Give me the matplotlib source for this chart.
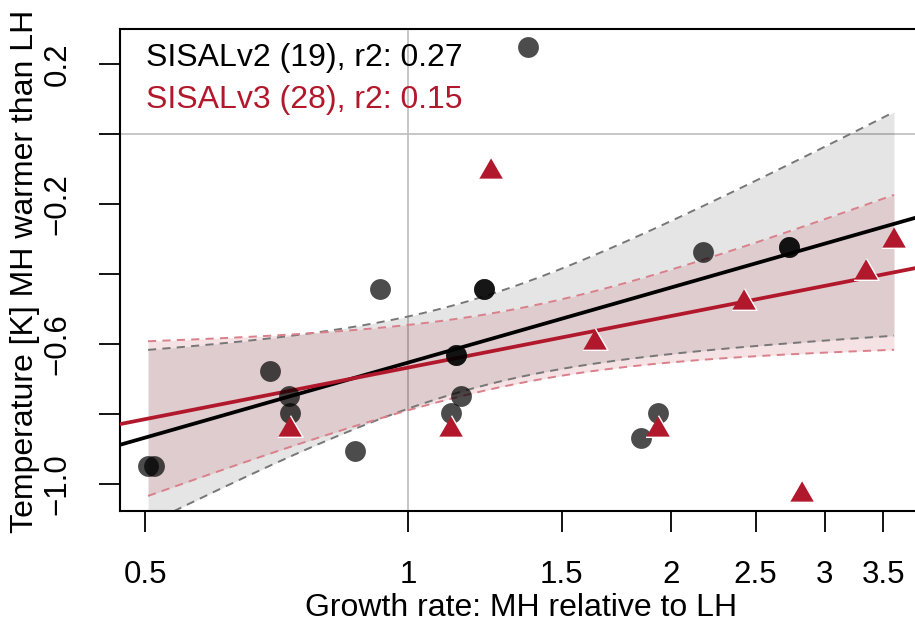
import matplotlib
matplotlib.use("Agg")
import matplotlib.pyplot as plt
import numpy as np

plt.rcParams['font.family'] = ['Liberation Sans', 'DejaVu Sans']

# SISALv2 sites (growth rate MH/LH, temperature difference MH-LH)
v2_growth = [1.372, 0.929, 1.222, 1.222, 0.695, 0.731, 0.733, 0.870, 0.504, 0.512,
             1.135, 1.135, 1.150, 1.120, 1.933, 1.848, 2.176, 2.730, 2.730]
v2_temp = [0.249, -0.443, -0.443, -0.443, -0.677, -0.749, -0.797, -0.906, -0.949, -0.949,
           -0.631, -0.631, -0.749, -0.797, -0.797, -0.869, -0.337, -0.323, -0.323]

# sites added in SISALv3
v3_new_growth = [1.245, 0.733, 1.120, 1.933, 2.825, 1.637, 2.425, 3.343, 3.600]
v3_new_temp = [-0.096, -0.834, -0.834, -0.834, -1.020, -0.586, -0.471, -0.386, -0.294]

# values printed in the legend
legend_names = ['SISALv2', 'SISALv3']
legend_n = [19, 28]
legend_r2 = [0.27, 0.15]

col_v3 = '#b2182b'
t_v2 = 2.110   # t(0.975, 17)
t_v3 = 2.056   # t(0.975, 26)


def fit_band(x, y, t, xs):
    lx = np.log(x)
    b, a = np.polyfit(lx, y, 1)
    n = len(x)
    res = y - (a + b * lx)
    s = np.sqrt(np.sum(res ** 2) / (n - 2))
    sxx = np.sum((lx - lx.mean()) ** 2)
    lxs = np.log(xs)
    fit = a + b * lxs
    se = s * np.sqrt(1 / n + (lxs - lx.mean()) ** 2 / sxx)
    return a, b, fit - t * se, fit + t * se


x2 = np.array(v2_growth)
y2 = np.array(v2_temp)
x3 = np.array(v2_growth + v3_new_growth)
y3 = np.array(v2_temp + v3_new_temp)

xs = np.exp(np.linspace(np.log(x3.min()), np.log(x3.max()), 200))
a2, b2, lo2, hi2 = fit_band(x2, y2, t_v2, xs)
a3, b3, lo3, hi3 = fit_band(x3, y3, t_v3, xs)

fig = plt.figure(figsize=(9.15, 6.25), dpi=100)
ax = fig.add_axes([120 / 915, 1 - 511 / 625, 798 / 915, 482 / 625])

xlim = (0.4681, 3.835)
ax.set_xscale('log')
ax.set_xlim(xlim)
ax.set_ylim(-1.077, 0.300)

ax.axhline(0, color='#bebebe', lw=1.2, zorder=0)
ax.axvline(1, color='#bebebe', lw=1.2, zorder=0)

ax.fill_between(xs, lo2, hi2, color='black', alpha=0.1, lw=0, zorder=1)
ax.fill_between(xs, lo3, hi3, color=col_v3, alpha=0.12, lw=0, zorder=1)
for lo, hi, c in [(lo2, hi2, '#777777'), (lo3, hi3, '#d9808b')]:
    ax.plot(xs, lo, color=c, lw=1.4, dashes=(4.2, 3.2), zorder=2)
    ax.plot(xs, hi, color=c, lw=1.4, dashes=(4.2, 3.2), zorder=2)

xl = np.array(xlim)
ax.plot(xl, a2 + b2 * np.log(xl), color='black', lw=2.7, zorder=3)
ax.plot(xl, a3 + b3 * np.log(xl), color=col_v3, lw=2.7, zorder=3)

ax.plot(x2, y2, 'o', color='black', alpha=0.7, ms=15, mew=0, zorder=4)
tri = [(-1, -0.866), (1, -0.866), (0, 0.866)]
ax.plot(v3_new_growth, v3_new_temp, linestyle='none', marker=tri, color=col_v3,
        ms=18, mec='white', mew=1, zorder=5)

for i, (c, yb) in enumerate([('black', 0.923), (col_v3, 0.836)]):
    ax.text(26 / 798, yb, '%s (%d), r2: %.2f' % (legend_names[i], legend_n[i], legend_r2[i]),
            transform=ax.transAxes, fontsize=23, color=c, va='baseline')

xticks = [0.5, 1, 1.5, 2, 2.5, 3, 3.5]
ax.xaxis.set_minor_locator(matplotlib.ticker.NullLocator())
ax.set_xticks(xticks)
ax.set_xticklabels(['0.5', '1', '1.5', '2', '2.5', '3', '3.5'])
yticks = [-1.0, -0.8, -0.6, -0.4, -0.2, 0.0, 0.2]
ax.set_yticks(yticks)
ax.set_yticklabels(['\u22121.0', '', '\u22120.6', '', '\u22120.2', '', '0.2'],
                   rotation=90, va='center')
ax.tick_params(axis='both', direction='out', length=15, width=1.3, labelsize=22.5)
ax.tick_params(axis='x', pad=20)
ax.tick_params(axis='y', pad=19)

for side in ['left', 'bottom', 'top', 'right']:
    ax.spines[side].set_linewidth(1.5)

fig.text(521 / 915, 1 - 608 / 625, 'Growth rate: MH relative to LH',
         ha='center', va='center', fontsize=23)
fig.text(25 / 915, 1 - 271 / 625, 'Temperature [K] MH warmer than LH',
         ha='center', va='center', rotation=90, fontsize=23)

fig.savefig('out.png', dpi=100)
